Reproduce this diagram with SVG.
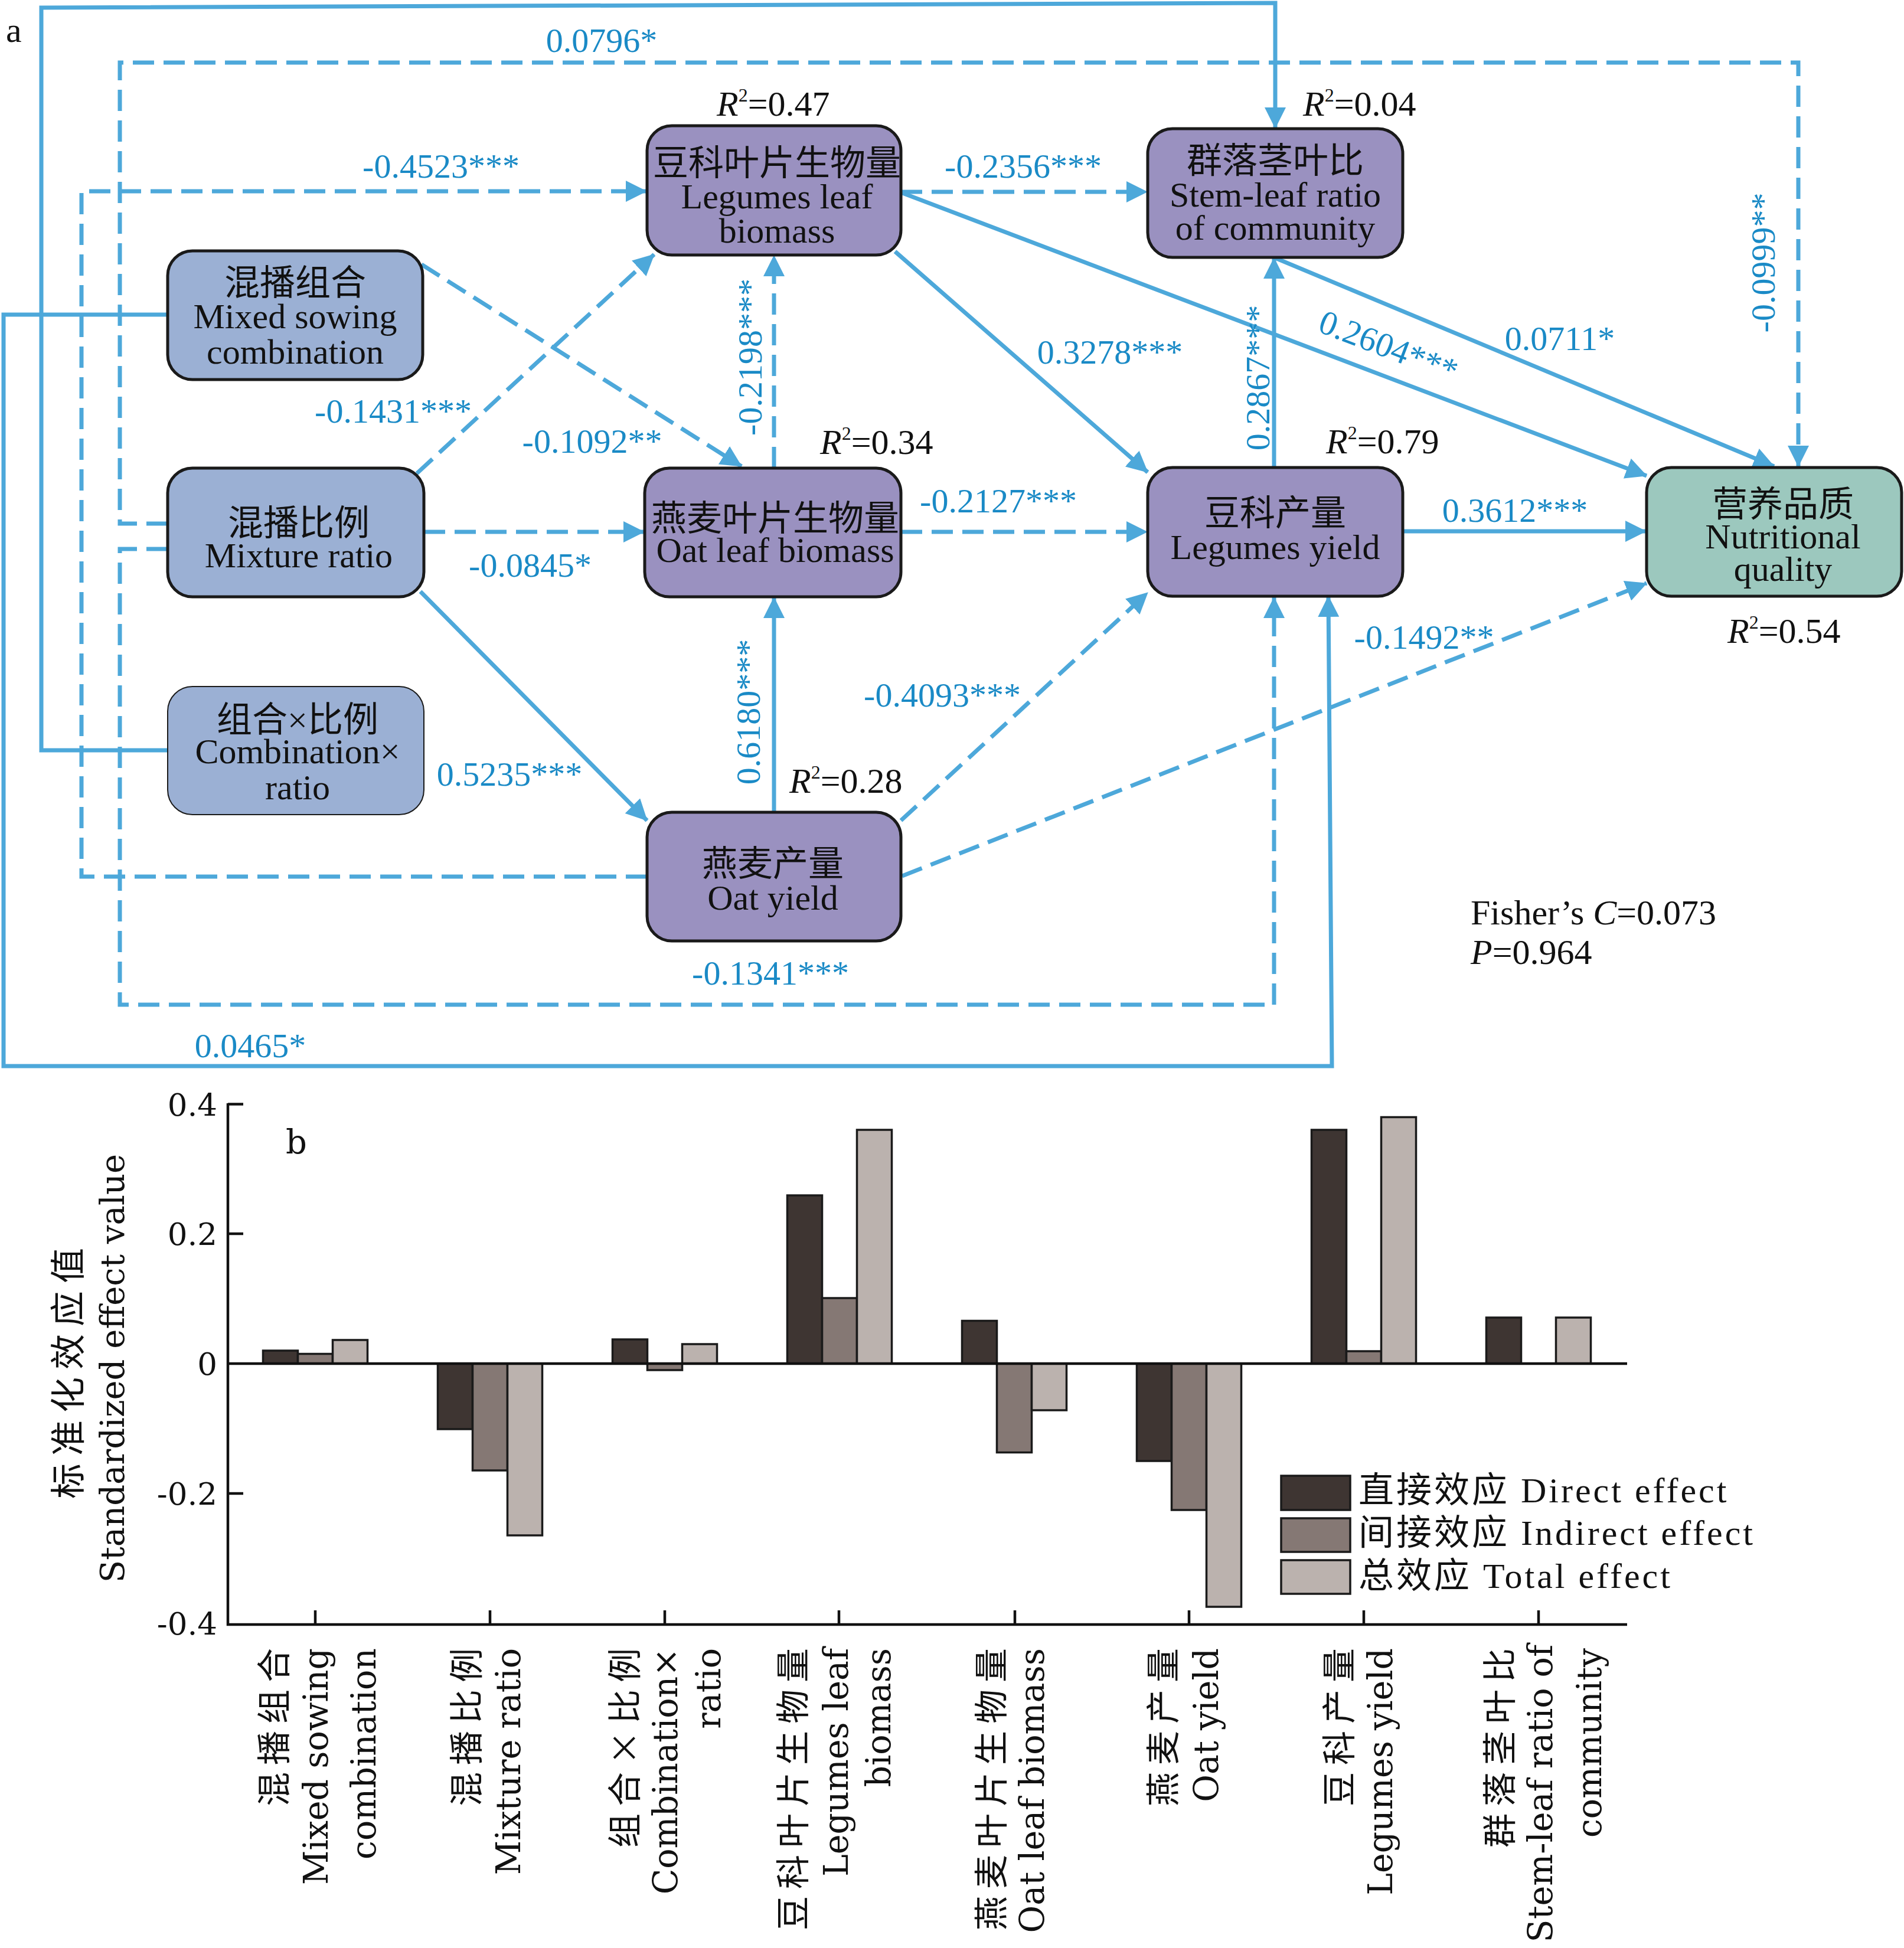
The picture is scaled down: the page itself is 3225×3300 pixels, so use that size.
<svg xmlns="http://www.w3.org/2000/svg" width="3225" height="3300" viewBox="0 0 3225 3300">
<defs>
<marker id="ah" markerUnits="userSpaceOnUse" markerWidth="36" markerHeight="36" viewBox="0 0 36 36" refX="35" refY="18" orient="auto"><path d="M0,0 L36,18 L0,36 z" fill="#4DA8DA"/></marker>
<style>
.c{fill:none;stroke:#4DA8DA;stroke-width:7;stroke-linejoin:miter}
.d{stroke-dasharray:36 16}
.a{marker-end:url(#ah)}
.lbl{font-family:"Liberation Serif",serif;font-size:58px;fill:#1A8AC6}
.r2{font-family:"Liberation Serif",serif;font-size:60px;fill:#111}
.nt{font-family:"Liberation Serif","Noto Sans CJK SC",serif;font-size:60px;fill:#111;text-anchor:middle}
.box{stroke:#1a1a1a;stroke-width:5}
.in{fill:#9BB0D4}.pu{fill:#9A91C0}.gr{fill:#9CC8BE}
.bar{stroke:#1a1a1a;stroke-width:3.5}
.b1{fill:#3E3532}.b2{fill:#857874}.b3{fill:#BBB2AE}
.ax{stroke:#111;stroke-width:4.5;fill:none}
.tk{font-family:"DejaVu Serif",serif;font-size:53px;fill:#111;text-anchor:end}
.xl{font-family:"DejaVu Serif",serif;font-size:57px;fill:#111;text-anchor:end}
.xc{font-family:"Noto Sans CJK SC",sans-serif;font-size:58px;fill:#111;text-anchor:end;letter-spacing:12px}
.lg{font-family:"Liberation Serif","Noto Sans CJK SC",serif;font-size:60px;fill:#111;letter-spacing:4px}
</style>
</defs>
<rect width="3225" height="3300" fill="#fff"/>

<text x="10" y="71" class="r2">a</text>

<g id="connectors">
<path class="c a" d="M284,533 L6,533 L6,1806 L2256,1806 L2250,1010"/>
<path class="c a" d="M284,1271 L70,1271 L70,13 L2160,5 L2160,217"/>
<path class="c d a" d="M1096,1485 L138,1485 L138,324 L1095,324"/>
<path class="c d a" d="M284,887 L203,887 L203,106 L3046,106 L3046,790"/>
<path class="c d a" d="M284,930 L203,930 L203,1702 L2158,1702 L2158,1012"/>
<path class="c d a" d="M714,448 L1256,790"/>
<path class="c d a" d="M706,802 L1108,431"/>
<path class="c d a" d="M718,901 L1091,901"/>
<path class="c a" d="M712,1002 L1096,1390"/>
<path class="c d a" d="M1311,793 L1311,433"/>
<path class="c a" d="M1311,1376 L1311,1012"/>
<path class="c d a" d="M1526,325 L1943,325"/>
<path class="c a" d="M1516,426 L1944,800"/>
<path class="c a" d="M1526,326 L2789,806"/>
<path class="c d a" d="M1526,901 L1943,901"/>
<path class="c d a" d="M1526,1390 L1944,1004"/>
<path class="c d a" d="M1528,1484 L2789,988"/>
<path class="c a" d="M2158,792 L2158,437"/>
<path class="c a" d="M2160,437 L3005,790"/>
<path class="c a" d="M2376,900 L2788,900"/>
</g>

<g id="node-mixed-sowing">
<rect class="box in" x="284" y="425" width="432" height="218" rx="42"/>
<text class="nt" x="500" y="500">混播组合</text>
<text class="nt" x="500" y="556">Mixed sowing</text>
<text class="nt" x="500" y="616">combination</text>
</g>
<g id="node-mixture-ratio">
<rect class="box in" x="284" y="793" width="434" height="218" rx="42"/>
<text class="nt" x="506" y="907">混播比例</text>
<text class="nt" x="506" y="961">Mixture ratio</text>
</g>
<g id="node-combination-ratio">
<rect class="in" x="284" y="1163" width="434" height="217" rx="42" stroke="#1a1a1a" stroke-width="2"/>
<text class="nt" x="504" y="1240">组合×比例</text>
<text class="nt" x="504" y="1293">Combination×</text>
<text class="nt" x="504" y="1354">ratio</text>
</g>
<g id="node-legumes-leaf">
<rect class="box pu" x="1096" y="213" width="430" height="219" rx="42"/>
<text class="nt" x="1316" y="297">豆科叶片生物量</text>
<text class="nt" x="1316" y="353">Legumes leaf</text>
<text class="nt" x="1316" y="411">biomass</text>
</g>
<g id="node-oat-leaf">
<rect class="box pu" x="1092" y="793" width="434" height="218" rx="42"/>
<text class="nt" x="1313" y="899">燕麦叶片生物量</text>
<text class="nt" x="1313" y="952">Oat leaf biomass</text>
</g>
<g id="node-oat-yield">
<rect class="box pu" x="1096" y="1376" width="430" height="218" rx="42"/>
<text class="nt" x="1309" y="1484">燕麦产量</text>
<text class="nt" x="1309" y="1541">Oat yield</text>
</g>
<g id="node-stem-leaf">
<rect class="box pu" x="1944" y="218" width="432" height="218" rx="42"/>
<text class="nt" x="2160" y="293">群落茎叶比</text>
<text class="nt" x="2160" y="350">Stem-leaf ratio</text>
<text class="nt" x="2160" y="406">of community</text>
</g>
<g id="node-legumes-yield">
<rect class="box pu" x="1944" y="792" width="432" height="218" rx="42"/>
<text class="nt" x="2160" y="890">豆科产量</text>
<text class="nt" x="2160" y="947">Legumes yield</text>
</g>
<g id="node-nutritional">
<rect class="box gr" x="2789" y="792" width="432" height="218" rx="42"/>
<text class="nt" x="3020" y="875">营养品质</text>
<text class="nt" x="3020" y="929">Nutritional</text>
<text class="nt" x="3020" y="984">quality</text>
</g>

<g id="edge-labels" class="lbl">
<text x="1019" y="88" text-anchor="middle">0.0796*</text>
<text x="747" y="301" text-anchor="middle">-0.4523***</text>
<text x="1733" y="301" text-anchor="middle">-0.2356***</text>
<text x="1880" y="616" text-anchor="middle">0.3278***</text>
<text x="666" y="716" text-anchor="middle">-0.1431***</text>
<text x="1003" y="767" text-anchor="middle">-0.1092**</text>
<text x="898" y="977" text-anchor="middle">-0.0845*</text>
<text x="863" y="1331" text-anchor="middle">0.5235***</text>
<text x="1691" y="868" text-anchor="middle">-0.2127***</text>
<text x="1596" y="1197" text-anchor="middle">-0.4093***</text>
<text x="1305" y="1668" text-anchor="middle">-0.1341***</text>
<text x="424" y="1791" text-anchor="middle">0.0465*</text>
<text x="2642" y="593" text-anchor="middle">0.0711*</text>
<text x="2566" y="884" text-anchor="middle">0.3612***</text>
<text x="2412" y="1099" text-anchor="middle">-0.1492**</text>
<text transform="translate(1290,605) rotate(-90)" text-anchor="middle">-0.2198***</text>
<text transform="translate(1287,1206) rotate(-90)" text-anchor="middle">0.6180***</text>
<text transform="translate(2150,640) rotate(-90)" text-anchor="middle">0.2867***</text>
<text transform="translate(3006,445) rotate(-90)" text-anchor="middle">-0.0999**</text>
<text transform="translate(2345,605) rotate(21)" text-anchor="middle">0.2604***</text>
</g>

<g id="r2-labels" class="r2">
<text x="1214" y="196"><tspan font-style="italic">R</tspan><tspan font-size="32" dy="-24">2</tspan><tspan dy="24">=0.47</tspan></text>
<text x="2207" y="196"><tspan font-style="italic">R</tspan><tspan font-size="32" dy="-24">2</tspan><tspan dy="24">=0.04</tspan></text>
<text x="1389" y="769"><tspan font-style="italic">R</tspan><tspan font-size="32" dy="-24">2</tspan><tspan dy="24">=0.34</tspan></text>
<text x="2246" y="768"><tspan font-style="italic">R</tspan><tspan font-size="32" dy="-24">2</tspan><tspan dy="24">=0.79</tspan></text>
<text x="1337" y="1343"><tspan font-style="italic">R</tspan><tspan font-size="32" dy="-24">2</tspan><tspan dy="24">=0.28</tspan></text>
<text x="2926" y="1089"><tspan font-style="italic">R</tspan><tspan font-size="32" dy="-24">2</tspan><tspan dy="24">=0.54</tspan></text>
<text x="2491" y="1566">Fisher’s <tspan font-style="italic">C</tspan>=0.073</text>
<text x="2491" y="1633"><tspan font-style="italic">P</tspan>=0.964</text>
</g>

<g id="chart-b">
<text x="484" y="1954" font-family="DejaVu Serif, serif" font-size="56" fill="#111">b</text>
<text transform="translate(137,2320) rotate(-90)" font-family="Noto Sans CJK SC, sans-serif" font-size="60" letter-spacing="13" text-anchor="middle" fill="#111">标准化效应值</text>
<text transform="translate(210,2318) rotate(-90)" font-family="DejaVu Serif, serif" font-size="56" text-anchor="middle" fill="#111">Standardized effect value</text>
<g class="tk">
<text x="368" y="1890">0.4</text>
<text x="368" y="2109">0.2</text>
<text x="368" y="2329">0</text>
<text x="368" y="2549">-0.2</text>
<text x="368" y="2769">-0.4</text>
</g>
<g id="bars" class="bar">
<rect class="b1" x="445.5" y="2288" width="59" height="22"/>
<rect class="b2" x="504.5" y="2293.5" width="59" height="16.5"/>
<rect class="b3" x="563.5" y="2270" width="59" height="40"/>
<rect class="b1" x="741.5" y="2310" width="59" height="111"/>
<rect class="b2" x="800.5" y="2310" width="59" height="181"/>
<rect class="b3" x="859.5" y="2310" width="59" height="291"/>
<rect class="b1" x="1037.5" y="2269" width="59" height="41"/>
<rect class="b2" x="1096.5" y="2310" width="59" height="11"/>
<rect class="b3" x="1155.5" y="2277" width="59" height="33"/>
<rect class="b1" x="1333.5" y="2025" width="59" height="285"/>
<rect class="b2" x="1392.5" y="2199" width="59" height="111"/>
<rect class="b3" x="1451.5" y="1914" width="59" height="396"/>
<rect class="b1" x="1629.5" y="2237.5" width="59" height="72.5"/>
<rect class="b2" x="1688.5" y="2310" width="59" height="150.5"/>
<rect class="b3" x="1747.5" y="2310" width="59" height="79"/>
<rect class="b1" x="1925.5" y="2310" width="59" height="165"/>
<rect class="b2" x="1984.5" y="2310" width="59" height="248"/>
<rect class="b3" x="2043.5" y="2310" width="59" height="412"/>
<rect class="b1" x="2221.5" y="1914" width="59" height="396"/>
<rect class="b2" x="2280.5" y="2289" width="59" height="21"/>
<rect class="b3" x="2339.5" y="1892.5" width="59" height="417.5"/>
<rect class="b1" x="2517.5" y="2232" width="59" height="78"/>
<rect class="b3" x="2635.5" y="2232" width="59" height="78"/>
</g>
<path class="ax" d="M386,1869 L386,2752 L2756,2752 M386,2310 L2756,2310 M386,1870.5 H412 M386,2090 H412 M386,2530 H412 M534,2728 V2752 M830,2728 V2752 M1126,2728 V2752 M1421,2728 V2752 M1719,2728 V2752 M2014,2728 V2752 M2310,2728 V2752 M2606,2728 V2752"/>
<g id="legend">
<rect class="bar b1" x="2170" y="2500" width="117" height="58"/>
<rect class="bar b2" x="2170" y="2572" width="117" height="57"/>
<rect class="bar b3" x="2170" y="2643" width="117" height="57"/>
<text class="lg" x="2301" y="2545">直接效应 Direct effect</text>
<text class="lg" x="2301" y="2617">间接效应 Indirect effect</text>
<text class="lg" x="2301" y="2690">总效应 Total effect</text>
</g>
<g id="x-labels">
<text class="xc" transform="translate(485,2780) rotate(-90)">混播组合</text>
<text class="xl" transform="translate(555,2792) rotate(-90)">Mixed sowing</text>
<text class="xl" transform="translate(636,2792) rotate(-90)">combination</text>
<text class="xc" transform="translate(811,2780) rotate(-90)">混播比例</text>
<text class="xl" transform="translate(881,2792) rotate(-90)">Mixture ratio</text>
<text class="xc" transform="translate(1079,2780) rotate(-90)">组合×比例</text>
<text class="xl" transform="translate(1147,2792) rotate(-90)">Combination×</text>
<text class="xl" transform="translate(1220,2792) rotate(-90)">ratio</text>
<text class="xc" transform="translate(1364,2780) rotate(-90)">豆科叶片生物量</text>
<text class="xl" transform="translate(1436,2792) rotate(-90)">Legumes leaf</text>
<text class="xl" transform="translate(1508,2792) rotate(-90)">biomass</text>
<text class="xc" transform="translate(1700,2780) rotate(-90)">燕麦叶片生物量</text>
<text class="xl" transform="translate(1768,2792) rotate(-90)">Oat leaf biomass</text>
<text class="xc" transform="translate(1991,2780) rotate(-90)">燕麦产量</text>
<text class="xl" transform="translate(2063,2792) rotate(-90)">Oat yield</text>
<text class="xc" transform="translate(2289,2780) rotate(-90)">豆科产量</text>
<text class="xl" transform="translate(2358,2792) rotate(-90)">Legumes yield</text>
<text class="xc" transform="translate(2561,2780) rotate(-90)">群落茎叶比</text>
<text class="xl" transform="translate(2629,2786) rotate(-90)">Stem-leaf ratio of</text>
<text class="xl" transform="translate(2712,2792) rotate(-90)">community</text>
</g>
</g>
</svg>
